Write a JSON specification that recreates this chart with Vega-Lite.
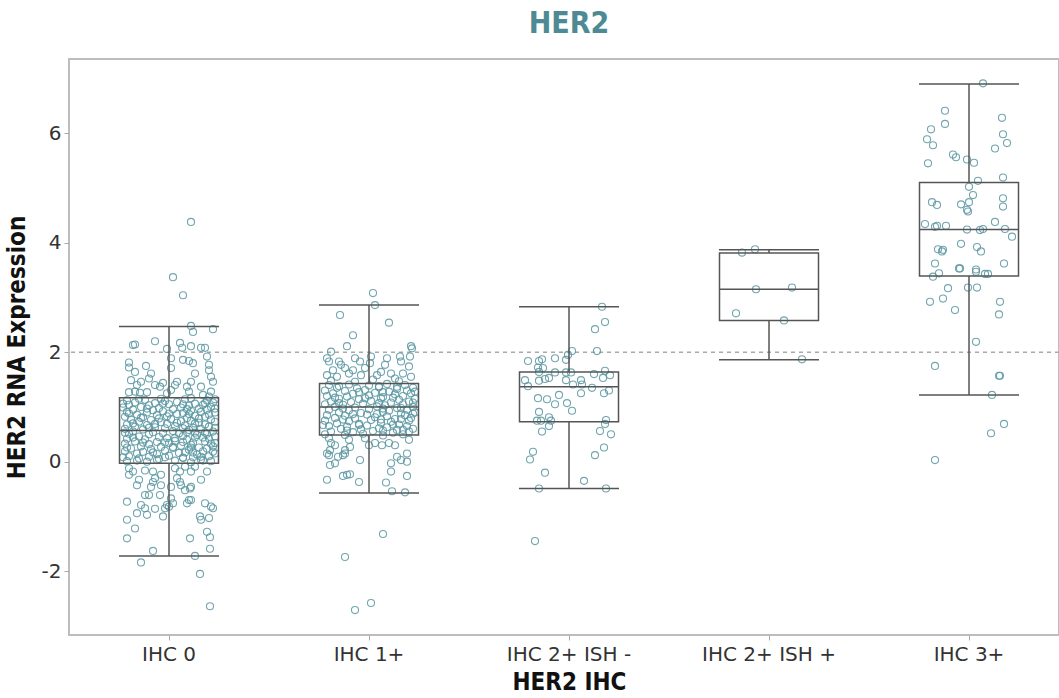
{
"$schema": "https://vega.github.io/schema/vega-lite/v6.json",
"width": 990, "height": 576,
"autosize": {"type": "none"},
"padding": {"left": 69, "top": 59, "right": 0, "bottom": 63},
"background": "white",
"title": {"text": "HER2", "font": "DejaVu Sans Condensed", "fontWeight": "bold", "fontSize": 30, "color": "#4e8a94", "anchor": "middle", "dx": 5, "offset": 20},
"config": {
  "view": {"stroke": "#bdbdbd", "strokeWidth": 2},
  "axis": {"domain": false, "grid": false, "tickColor": "#aaaaaa", "tickSize": 5, "tickWidth": 1, "labelFont": "DejaVu Sans", "labelFontSize": 20, "labelColor": "#333333", "titleFont": "DejaVu Sans Condensed", "titleFontWeight": "bold", "titleFontSize": 24, "titleColor": "#111111"}
},
"datasets": {
"stats": [
{"g":"IHC 0","lo":-1.72,"q1":-0.03,"med":0.57,"q3":1.17,"hi":2.47},
{"g":"IHC 1+","lo":-0.57,"q1":0.49,"med":1.00,"q3":1.43,"hi":2.86},
{"g":"IHC 2+ ISH -","lo":-0.49,"q1":0.73,"med":1.37,"q3":1.64,"hi":2.83},
{"g":"IHC 2+ ISH +","lo":1.86,"q1":2.58,"med":3.15,"q3":3.81,"hi":3.87},
{"g":"IHC 3+","lo":1.22,"q1":3.39,"med":4.24,"q3":5.10,"hi":6.90}
],
"ref": [{"r": 2}],
"pts": [
{"g":"IHC 0","v":4.38,"j":0.11},{"g":"IHC 0","v":3.37,"j":0.02},{"g":"IHC 0","v":3.04,"j":0.07},{"g":"IHC 0","v":2.48,"j":0.11},{"g":"IHC 0","v":2.37,"j":0.12},{"g":"IHC 0","v":2.42,"j":0.22},
{"g":"IHC 0","v":2.13,"j":-0.18},{"g":"IHC 0","v":2.14,"j":-0.17},{"g":"IHC 0","v":2.20,"j":-0.07},{"g":"IHC 0","v":2.06,"j":-0.01},{"g":"IHC 0","v":2.17,"j":0.055},{"g":"IHC 0","v":2.08,"j":0.066},{"g":"IHC 0","v":2.11,"j":0.11},{"g":"IHC 0","v":2.08,"j":0.16},{"g":"IHC 0","v":2.08,"j":0.18},{"g":"IHC 0","v":1.92,"j":0.19},
{"g":"IHC 0","v":1.81,"j":-0.2},{"g":"IHC 0","v":1.72,"j":-0.2},{"g":"IHC 0","v":1.75,"j":-0.115},{"g":"IHC 0","v":1.89,"j":0.01},{"g":"IHC 0","v":1.71,"j":0.01},{"g":"IHC 0","v":1.86,"j":0.07},{"g":"IHC 0","v":1.84,"j":0.1},{"g":"IHC 0","v":1.80,"j":0.12},{"g":"IHC 0","v":1.77,"j":0.2},{"g":"IHC 0","v":1.67,"j":0.2},
{"g":"IHC 0","v":1.64,"j":-0.17},{"g":"IHC 0","v":1.61,"j":-0.09},{"g":"IHC 0","v":1.52,"j":-0.1},{"g":"IHC 0","v":1.61,"j":0.13},{"g":"IHC 0","v":1.55,"j":0.21},{"g":"IHC 0","v":1.46,"j":0.22},
{"g":"IHC 0","v":1.49,"j":-0.19},{"g":"IHC 0","v":1.40,"j":-0.16},{"g":"IHC 0","v":1.46,"j":-0.14},{"g":"IHC 0","v":1.44,"j":-0.03},{"g":"IHC 0","v":1.46,"j":0.04},{"g":"IHC 0","v":1.40,"j":0.03},{"g":"IHC 0","v":1.46,"j":0.11},
{"g":"IHC 0","v":1.27,"j":-0.2},{"g":"IHC 0","v":1.28,"j":-0.17},{"g":"IHC 0","v":1.26,"j":-0.145},{"g":"IHC 0","v":1.27,"j":-0.11},{"g":"IHC 0","v":1.40,"j":-0.07},{"g":"IHC 0","v":1.37,"j":-0.045},{"g":"IHC 0","v":1.25,"j":-0.01},{"g":"IHC 0","v":1.31,"j":0.01},{"g":"IHC 0","v":1.37,"j":0.09},{"g":"IHC 0","v":1.28,"j":0.1},
{"g":"IHC 0","v":1.37,"j":0.16},{"g":"IHC 0","v":1.22,"j":0.17},{"g":"IHC 0","v":1.19,"j":0.2},{"g":"IHC 0","v":1.28,"j":0.21},
{"g":"IHC 0","v":1.12,"j":-0.21},{"g":"IHC 0","v":1.13,"j":-0.12},{"g":"IHC 0","v":1.11,"j":-0.02},{"g":"IHC 0","v":1.14,"j":0.08},{"g":"IHC 0","v":1.12,"j":0.19},
{"g":"IHC 0","v":1.08,"j":-0.17},{"g":"IHC 0","v":1.07,"j":-0.07},{"g":"IHC 0","v":1.09,"j":0.04},{"g":"IHC 0","v":1.06,"j":0.13},{"g":"IHC 0","v":1.08,"j":0.22},
{"g":"IHC 0","v":1.04,"j":-0.2},{"g":"IHC 0","v":1.03,"j":-0.1},{"g":"IHC 0","v":1.05,"j":0.0},{"g":"IHC 0","v":1.02,"j":0.1},{"g":"IHC 0","v":1.04,"j":0.17},
{"g":"IHC 0","v":0.99,"j":-0.23},{"g":"IHC 0","v":1.00,"j":-0.14},{"g":"IHC 0","v":0.98,"j":-0.05},{"g":"IHC 0","v":0.99,"j":0.06},{"g":"IHC 0","v":0.97,"j":0.15},{"g":"IHC 0","v":1.00,"j":0.21},
{"g":"IHC 0","v":0.95,"j":-0.18},{"g":"IHC 0","v":0.94,"j":-0.08},{"g":"IHC 0","v":0.96,"j":0.02},{"g":"IHC 0","v":0.93,"j":0.11},{"g":"IHC 0","v":0.95,"j":0.19},
{"g":"IHC 0","v":0.91,"j":-0.21},{"g":"IHC 0","v":0.90,"j":-0.11},{"g":"IHC 0","v":0.92,"j":-0.03},{"g":"IHC 0","v":0.89,"j":0.07},{"g":"IHC 0","v":0.91,"j":0.16},{"g":"IHC 0","v":0.90,"j":0.23},
{"g":"IHC 0","v":0.86,"j":-0.16},{"g":"IHC 0","v":0.85,"j":-0.06},{"g":"IHC 0","v":0.87,"j":0.04},{"g":"IHC 0","v":0.84,"j":0.13},{"g":"IHC 0","v":0.86,"j":0.2},
{"g":"IHC 0","v":0.82,"j":-0.22},{"g":"IHC 0","v":0.81,"j":-0.13},{"g":"IHC 0","v":0.83,"j":-0.01},{"g":"IHC 0","v":0.80,"j":0.09},{"g":"IHC 0","v":0.82,"j":0.18},
{"g":"IHC 0","v":0.77,"j":-0.19},{"g":"IHC 0","v":0.76,"j":-0.09},{"g":"IHC 0","v":0.78,"j":0.01},{"g":"IHC 0","v":0.75,"j":0.11},{"g":"IHC 0","v":0.77,"j":0.21},
{"g":"IHC 0","v":0.73,"j":-0.15},{"g":"IHC 0","v":0.72,"j":-0.04},{"g":"IHC 0","v":0.74,"j":0.06},{"g":"IHC 0","v":0.71,"j":0.15},{"g":"IHC 0","v":0.73,"j":0.23},
{"g":"IHC 0","v":0.68,"j":-0.21},{"g":"IHC 0","v":0.67,"j":-0.11},{"g":"IHC 0","v":0.69,"j":-0.01},{"g":"IHC 0","v":0.66,"j":0.08},{"g":"IHC 0","v":0.68,"j":0.18},
{"g":"IHC 0","v":0.64,"j":-0.17},{"g":"IHC 0","v":0.63,"j":-0.07},{"g":"IHC 0","v":0.65,"j":0.03},{"g":"IHC 0","v":0.62,"j":0.12},{"g":"IHC 0","v":0.64,"j":0.2},
{"g":"IHC 0","v":0.60,"j":-0.22},{"g":"IHC 0","v":0.59,"j":-0.13},{"g":"IHC 0","v":0.61,"j":-0.02},{"g":"IHC 0","v":0.58,"j":0.1},{"g":"IHC 0","v":0.60,"j":0.16},
{"g":"IHC 0","v":0.55,"j":-0.18},{"g":"IHC 0","v":0.54,"j":-0.08},{"g":"IHC 0","v":0.56,"j":0.02},{"g":"IHC 0","v":0.53,"j":0.13},{"g":"IHC 0","v":0.55,"j":0.22},
{"g":"IHC 0","v":0.51,"j":-0.2},{"g":"IHC 0","v":0.50,"j":-0.1},{"g":"IHC 0","v":0.52,"j":0.05},{"g":"IHC 0","v":0.49,"j":0.14},{"g":"IHC 0","v":0.51,"j":0.19},
{"g":"IHC 0","v":0.46,"j":-0.15},{"g":"IHC 0","v":0.45,"j":-0.05},{"g":"IHC 0","v":0.47,"j":0.07},{"g":"IHC 0","v":0.44,"j":0.17},{"g":"IHC 0","v":0.46,"j":0.23},
{"g":"IHC 0","v":0.42,"j":-0.21},{"g":"IHC 0","v":0.41,"j":-0.12},{"g":"IHC 0","v":0.43,"j":-0.01},{"g":"IHC 0","v":0.40,"j":0.09},{"g":"IHC 0","v":0.42,"j":0.2},
{"g":"IHC 0","v":0.37,"j":-0.17},{"g":"IHC 0","v":0.36,"j":-0.06},{"g":"IHC 0","v":0.38,"j":0.03},{"g":"IHC 0","v":0.35,"j":0.12},{"g":"IHC 0","v":0.37,"j":0.18},
{"g":"IHC 0","v":0.33,"j":-0.22},{"g":"IHC 0","v":0.32,"j":-0.1},{"g":"IHC 0","v":0.34,"j":0.0},{"g":"IHC 0","v":0.31,"j":0.11},{"g":"IHC 0","v":0.33,"j":0.21},
{"g":"IHC 0","v":0.28,"j":-0.14},{"g":"IHC 0","v":0.27,"j":-0.04},{"g":"IHC 0","v":0.29,"j":0.06},{"g":"IHC 0","v":0.26,"j":0.15},{"g":"IHC 0","v":0.28,"j":0.22},
{"g":"IHC 0","v":0.24,"j":-0.19},{"g":"IHC 0","v":0.23,"j":-0.09},{"g":"IHC 0","v":0.25,"j":0.02},{"g":"IHC 0","v":0.22,"j":0.1},{"g":"IHC 0","v":0.24,"j":0.19},
{"g":"IHC 0","v":0.19,"j":-0.22},{"g":"IHC 0","v":0.18,"j":-0.13},{"g":"IHC 0","v":0.20,"j":-0.02},{"g":"IHC 0","v":0.17,"j":0.08},{"g":"IHC 0","v":0.19,"j":0.17},
{"g":"IHC 0","v":0.15,"j":-0.16},{"g":"IHC 0","v":0.14,"j":-0.06},{"g":"IHC 0","v":0.16,"j":0.05},{"g":"IHC 0","v":0.13,"j":0.14},{"g":"IHC 0","v":0.15,"j":0.23},
{"g":"IHC 0","v":0.10,"j":-0.2},{"g":"IHC 0","v":0.09,"j":-0.1},{"g":"IHC 0","v":0.11,"j":0.0},{"g":"IHC 0","v":0.08,"j":0.12},{"g":"IHC 0","v":0.10,"j":0.2},
{"g":"IHC 0","v":0.06,"j":-0.15},{"g":"IHC 0","v":0.05,"j":-0.05},{"g":"IHC 0","v":0.07,"j":0.07},{"g":"IHC 0","v":0.04,"j":0.16},
{"g":"IHC 0","v":0.01,"j":-0.21},{"g":"IHC 0","v":0.00,"j":-0.11},{"g":"IHC 0","v":0.02,"j":0.03},{"g":"IHC 0","v":-0.01,"j":0.11},{"g":"IHC 0","v":0.01,"j":0.21},
{"g":"IHC 0","v":1.15,"j":-0.15},{"g":"IHC 0","v":1.15,"j":-0.04},{"g":"IHC 0","v":1.16,"j":0.11},{"g":"IHC 0","v":1.14,"j":0.23},
{"g":"IHC 0","v":1.06,"j":-0.23},{"g":"IHC 0","v":1.06,"j":-0.03},{"g":"IHC 0","v":1.05,"j":0.07},{"g":"IHC 0","v":1.07,"j":0.18},
{"g":"IHC 0","v":0.97,"j":-0.11},{"g":"IHC 0","v":0.96,"j":0.09},{"g":"IHC 0","v":0.97,"j":0.23},
{"g":"IHC 0","v":0.88,"j":-0.2},{"g":"IHC 0","v":0.88,"j":0.0},{"g":"IHC 0","v":0.87,"j":0.1},
{"g":"IHC 0","v":0.79,"j":-0.05},{"g":"IHC 0","v":0.79,"j":0.15},{"g":"IHC 0","v":0.80,"j":-0.14},
{"g":"IHC 0","v":0.70,"j":-0.18},{"g":"IHC 0","v":0.71,"j":0.04},{"g":"IHC 0","v":0.70,"j":0.13},{"g":"IHC 0","v":0.69,"j":-0.07},
{"g":"IHC 0","v":0.62,"j":-0.1},{"g":"IHC 0","v":0.61,"j":0.07},{"g":"IHC 0","v":0.62,"j":0.23},
{"g":"IHC 0","v":0.53,"j":-0.22},{"g":"IHC 0","v":0.52,"j":-0.03},{"g":"IHC 0","v":0.54,"j":0.09},{"g":"IHC 0","v":0.53,"j":0.18},
{"g":"IHC 0","v":0.44,"j":-0.18},{"g":"IHC 0","v":0.43,"j":0.03},{"g":"IHC 0","v":0.44,"j":0.13},
{"g":"IHC 0","v":0.35,"j":-0.13},{"g":"IHC 0","v":0.35,"j":-0.02},{"g":"IHC 0","v":0.36,"j":0.07},{"g":"IHC 0","v":0.34,"j":0.23},
{"g":"IHC 0","v":0.26,"j":-0.21},{"g":"IHC 0","v":0.26,"j":0.11},{"g":"IHC 0","v":0.27,"j":0.02},
{"g":"IHC 0","v":0.17,"j":-0.08},{"g":"IHC 0","v":0.17,"j":0.12},{"g":"IHC 0","v":0.18,"j":0.22},
{"g":"IHC 0","v":0.08,"j":-0.23},{"g":"IHC 0","v":0.08,"j":-0.02},{"g":"IHC 0","v":0.09,"j":0.16},{"g":"IHC 0","v":0.07,"j":0.07},
{"g":"IHC 0","v":0.02,"j":-0.16},{"g":"IHC 0","v":0.03,"j":-0.06},{"g":"IHC 0","v":0.02,"j":0.17},
{"g":"IHC 0","v":-0.12,"j":-0.2},{"g":"IHC 0","v":-0.18,"j":-0.18},{"g":"IHC 0","v":-0.24,"j":-0.2},{"g":"IHC 0","v":-0.16,"j":-0.12},{"g":"IHC 0","v":-0.18,"j":-0.08},{"g":"IHC 0","v":-0.30,"j":-0.07},{"g":"IHC 0","v":-0.24,"j":-0.04},
{"g":"IHC 0","v":-0.12,"j":0.03},{"g":"IHC 0","v":-0.18,"j":0.055},{"g":"IHC 0","v":-0.09,"j":0.08},{"g":"IHC 0","v":-0.18,"j":0.11},{"g":"IHC 0","v":-0.09,"j":0.13},{"g":"IHC 0","v":-0.18,"j":0.19},{"g":"IHC 0","v":-0.33,"j":0.16},{"g":"IHC 0","v":-0.30,"j":0.04},
{"g":"IHC 0","v":-0.33,"j":-0.15},{"g":"IHC 0","v":-0.43,"j":-0.16},{"g":"IHC 0","v":-0.37,"j":-0.08},{"g":"IHC 0","v":-0.46,"j":-0.09},{"g":"IHC 0","v":-0.43,"j":-0.04},
{"g":"IHC 0","v":-0.46,"j":0.01},{"g":"IHC 0","v":-0.43,"j":0.06},{"g":"IHC 0","v":-0.52,"j":0.08},{"g":"IHC 0","v":-0.49,"j":0.105},{"g":"IHC 0","v":-0.37,"j":0.055},
{"g":"IHC 0","v":-0.61,"j":-0.12},{"g":"IHC 0","v":-0.61,"j":-0.10},{"g":"IHC 0","v":-0.61,"j":-0.045},{"g":"IHC 0","v":-0.46,"j":0.11},{"g":"IHC 0","v":-0.70,"j":0.1},{"g":"IHC 0","v":-0.70,"j":0.11},
{"g":"IHC 0","v":-0.67,"j":0.01},{"g":"IHC 0","v":-0.76,"j":0.02},{"g":"IHC 0","v":-0.73,"j":-0.21},{"g":"IHC 0","v":-0.79,"j":-0.14},{"g":"IHC 0","v":-0.85,"j":-0.12},
{"g":"IHC 0","v":-0.79,"j":-0.01},{"g":"IHC 0","v":-0.85,"j":-0.02},{"g":"IHC 0","v":-0.82,"j":0.0},{"g":"IHC 0","v":-0.86,"j":-0.07},{"g":"IHC 0","v":-0.76,"j":0.09},
{"g":"IHC 0","v":-0.76,"j":0.18},{"g":"IHC 0","v":-0.82,"j":0.21},{"g":"IHC 0","v":-0.85,"j":0.22},{"g":"IHC 0","v":-0.94,"j":-0.16},{"g":"IHC 0","v":-0.97,"j":-0.11},{"g":"IHC 0","v":-1.0,"j":-0.03},
{"g":"IHC 0","v":-1.0,"j":0.155},{"g":"IHC 0","v":-1.06,"j":0.16},{"g":"IHC 0","v":-1.03,"j":0.2},{"g":"IHC 0","v":-1.06,"j":-0.21},{"g":"IHC 0","v":-1.22,"j":-0.17},{"g":"IHC 0","v":-1.28,"j":0.19},
{"g":"IHC 0","v":-1.40,"j":-0.21},{"g":"IHC 0","v":-1.40,"j":0.105},{"g":"IHC 0","v":-1.38,"j":0.205},{"g":"IHC 0","v":-1.63,"j":-0.08},{"g":"IHC 0","v":-1.59,"j":0.205},{"g":"IHC 0","v":-1.72,"j":0.13},
{"g":"IHC 0","v":-1.84,"j":-0.14},{"g":"IHC 0","v":-2.05,"j":0.155},{"g":"IHC 0","v":-2.64,"j":0.205},
{"g":"IHC 1+","v":3.08,"j":0.02},{"g":"IHC 1+","v":2.86,"j":0.03},{"g":"IHC 1+","v":2.68,"j":-0.145},{"g":"IHC 1+","v":2.54,"j":0.1},{"g":"IHC 1+","v":2.31,"j":-0.08},{"g":"IHC 1+","v":2.11,"j":-0.11},{"g":"IHC 1+","v":2.11,"j":0.21},{"g":"IHC 1+","v":2.07,"j":0.215},
{"g":"IHC 1+","v":2.01,"j":-0.19},{"g":"IHC 1+","v":1.89,"j":-0.21},{"g":"IHC 1+","v":1.83,"j":-0.2},{"g":"IHC 1+","v":1.83,"j":-0.15},{"g":"IHC 1+","v":1.77,"j":-0.14},{"g":"IHC 1+","v":1.71,"j":-0.12},{"g":"IHC 1+","v":1.89,"j":-0.07},{"g":"IHC 1+","v":1.83,"j":-0.045},
{"g":"IHC 1+","v":1.92,"j":0.01},{"g":"IHC 1+","v":1.80,"j":0.005},{"g":"IHC 1+","v":1.89,"j":0.09},{"g":"IHC 1+","v":1.77,"j":0.08},{"g":"IHC 1+","v":1.92,"j":0.155},{"g":"IHC 1+","v":1.83,"j":0.16},{"g":"IHC 1+","v":1.92,"j":0.205},{"g":"IHC 1+","v":1.74,"j":0.2},
{"g":"IHC 1+","v":1.58,"j":-0.21},{"g":"IHC 1+","v":1.67,"j":-0.18},{"g":"IHC 1+","v":1.55,"j":-0.16},{"g":"IHC 1+","v":1.61,"j":-0.1},{"g":"IHC 1+","v":1.67,"j":-0.08},{"g":"IHC 1+","v":1.58,"j":-0.04},{"g":"IHC 1+","v":1.71,"j":-0.02},
{"g":"IHC 1+","v":1.58,"j":0.04},{"g":"IHC 1+","v":1.64,"j":0.06},{"g":"IHC 1+","v":1.61,"j":0.11},{"g":"IHC 1+","v":1.52,"j":0.13},{"g":"IHC 1+","v":1.61,"j":0.17},{"g":"IHC 1+","v":1.55,"j":0.21},
{"g":"IHC 1+","v":1.48,"j":-0.19},{"g":"IHC 1+","v":1.46,"j":-0.07},{"g":"IHC 1+","v":1.50,"j":0.02},{"g":"IHC 1+","v":1.47,"j":0.15},
{"g":"IHC 1+","v":1.40,"j":-0.2},{"g":"IHC 1+","v":1.41,"j":-0.1},{"g":"IHC 1+","v":1.39,"j":0.0},{"g":"IHC 1+","v":1.42,"j":0.09},{"g":"IHC 1+","v":1.40,"j":0.18},
{"g":"IHC 1+","v":1.35,"j":-0.16},{"g":"IHC 1+","v":1.34,"j":-0.06},{"g":"IHC 1+","v":1.36,"j":0.05},{"g":"IHC 1+","v":1.33,"j":0.14},{"g":"IHC 1+","v":1.35,"j":0.22},
{"g":"IHC 1+","v":1.30,"j":-0.22},{"g":"IHC 1+","v":1.29,"j":-0.12},{"g":"IHC 1+","v":1.31,"j":-0.02},{"g":"IHC 1+","v":1.28,"j":0.1},{"g":"IHC 1+","v":1.30,"j":0.19},
{"g":"IHC 1+","v":1.25,"j":-0.18},{"g":"IHC 1+","v":1.24,"j":-0.08},{"g":"IHC 1+","v":1.26,"j":0.03},{"g":"IHC 1+","v":1.23,"j":0.13},{"g":"IHC 1+","v":1.25,"j":0.21},
{"g":"IHC 1+","v":1.20,"j":-0.21},{"g":"IHC 1+","v":1.19,"j":-0.11},{"g":"IHC 1+","v":1.21,"j":0.0},{"g":"IHC 1+","v":1.18,"j":0.07},{"g":"IHC 1+","v":1.20,"j":0.17},
{"g":"IHC 1+","v":1.15,"j":-0.15},{"g":"IHC 1+","v":1.14,"j":-0.05},{"g":"IHC 1+","v":1.16,"j":0.06},{"g":"IHC 1+","v":1.13,"j":0.15},{"g":"IHC 1+","v":1.15,"j":0.23},
{"g":"IHC 1+","v":1.10,"j":-0.19},{"g":"IHC 1+","v":1.09,"j":-0.09},{"g":"IHC 1+","v":1.11,"j":0.01},{"g":"IHC 1+","v":1.08,"j":0.11},{"g":"IHC 1+","v":1.10,"j":0.2},
{"g":"IHC 1+","v":1.05,"j":-0.22},{"g":"IHC 1+","v":1.04,"j":-0.13},{"g":"IHC 1+","v":1.06,"j":-0.03},{"g":"IHC 1+","v":1.03,"j":0.08},{"g":"IHC 1+","v":1.05,"j":0.17},
{"g":"IHC 1+","v":1.00,"j":-0.17},{"g":"IHC 1+","v":0.99,"j":-0.07},{"g":"IHC 1+","v":1.01,"j":0.04},{"g":"IHC 1+","v":0.98,"j":0.14},{"g":"IHC 1+","v":1.00,"j":0.22},
{"g":"IHC 1+","v":0.95,"j":-0.2},{"g":"IHC 1+","v":0.94,"j":-0.1},{"g":"IHC 1+","v":0.96,"j":0.0},{"g":"IHC 1+","v":0.93,"j":0.1},{"g":"IHC 1+","v":0.95,"j":0.19},
{"g":"IHC 1+","v":0.90,"j":-0.15},{"g":"IHC 1+","v":0.89,"j":-0.04},{"g":"IHC 1+","v":0.91,"j":0.07},{"g":"IHC 1+","v":0.88,"j":0.16},{"g":"IHC 1+","v":0.90,"j":0.23},
{"g":"IHC 1+","v":0.85,"j":-0.21},{"g":"IHC 1+","v":0.84,"j":-0.12},{"g":"IHC 1+","v":0.86,"j":-0.01},{"g":"IHC 1+","v":0.83,"j":0.09},{"g":"IHC 1+","v":0.85,"j":0.18},
{"g":"IHC 1+","v":0.80,"j":-0.17},{"g":"IHC 1+","v":0.79,"j":-0.07},{"g":"IHC 1+","v":0.81,"j":0.03},{"g":"IHC 1+","v":0.78,"j":0.13},{"g":"IHC 1+","v":0.80,"j":0.21},
{"g":"IHC 1+","v":0.75,"j":-0.22},{"g":"IHC 1+","v":0.74,"j":-0.1},{"g":"IHC 1+","v":0.76,"j":0.01},{"g":"IHC 1+","v":0.73,"j":0.11},{"g":"IHC 1+","v":0.75,"j":0.2},
{"g":"IHC 1+","v":0.70,"j":-0.16},{"g":"IHC 1+","v":0.69,"j":-0.05},{"g":"IHC 1+","v":0.71,"j":0.06},{"g":"IHC 1+","v":0.68,"j":0.15},
{"g":"IHC 1+","v":0.65,"j":-0.2},{"g":"IHC 1+","v":0.64,"j":-0.11},{"g":"IHC 1+","v":0.66,"j":-0.01},{"g":"IHC 1+","v":0.63,"j":0.09},{"g":"IHC 1+","v":0.65,"j":0.19},
{"g":"IHC 1+","v":0.60,"j":-0.14},{"g":"IHC 1+","v":0.59,"j":-0.04},{"g":"IHC 1+","v":0.61,"j":0.05},{"g":"IHC 1+","v":0.58,"j":0.14},{"g":"IHC 1+","v":0.60,"j":0.22},
{"g":"IHC 1+","v":0.55,"j":-0.19},{"g":"IHC 1+","v":0.54,"j":-0.08},{"g":"IHC 1+","v":0.56,"j":0.02},{"g":"IHC 1+","v":0.53,"j":0.12},{"g":"IHC 1+","v":0.55,"j":0.2},
{"g":"IHC 1+","v":0.50,"j":-0.22},{"g":"IHC 1+","v":0.49,"j":-0.12},{"g":"IHC 1+","v":0.51,"j":-0.03},{"g":"IHC 1+","v":0.48,"j":0.07},{"g":"IHC 1+","v":0.50,"j":0.17},
{"g":"IHC 1+","v":1.38,"j":-0.15},{"g":"IHC 1+","v":1.38,"j":0.05},{"g":"IHC 1+","v":1.37,"j":0.14},
{"g":"IHC 1+","v":1.27,"j":-0.05},{"g":"IHC 1+","v":1.27,"j":0.07},{"g":"IHC 1+","v":1.28,"j":0.23},
{"g":"IHC 1+","v":1.17,"j":-0.17},{"g":"IHC 1+","v":1.17,"j":0.12},{"g":"IHC 1+","v":1.16,"j":-0.02},
{"g":"IHC 1+","v":1.07,"j":-0.15},{"g":"IHC 1+","v":1.07,"j":0.05},{"g":"IHC 1+","v":1.08,"j":0.22},
{"g":"IHC 1+","v":0.97,"j":-0.13},{"g":"IHC 1+","v":0.97,"j":0.07},{"g":"IHC 1+","v":0.98,"j":0.16},
{"g":"IHC 1+","v":0.87,"j":-0.08},{"g":"IHC 1+","v":0.87,"j":0.04},{"g":"IHC 1+","v":0.88,"j":0.22},
{"g":"IHC 1+","v":0.77,"j":-0.13},{"g":"IHC 1+","v":0.77,"j":0.06},{"g":"IHC 1+","v":0.78,"j":0.16},
{"g":"IHC 1+","v":0.67,"j":-0.23},{"g":"IHC 1+","v":0.67,"j":-0.05},{"g":"IHC 1+","v":0.68,"j":0.12},
{"g":"IHC 1+","v":0.57,"j":-0.11},{"g":"IHC 1+","v":0.57,"j":0.07},{"g":"IHC 1+","v":0.58,"j":0.17},
{"g":"IHC 1+","v":0.43,"j":-0.2},{"g":"IHC 1+","v":0.34,"j":-0.19},{"g":"IHC 1+","v":0.30,"j":-0.17},{"g":"IHC 1+","v":0.21,"j":-0.195},{"g":"IHC 1+","v":0.40,"j":-0.1},{"g":"IHC 1+","v":0.27,"j":-0.095},{"g":"IHC 1+","v":0.21,"j":-0.12},
{"g":"IHC 1+","v":0.43,"j":-0.02},{"g":"IHC 1+","v":0.30,"j":0.0},{"g":"IHC 1+","v":0.34,"j":0.03},{"g":"IHC 1+","v":0.30,"j":0.065},{"g":"IHC 1+","v":0.34,"j":0.1},{"g":"IHC 1+","v":0.30,"j":0.13},{"g":"IHC 1+","v":0.40,"j":0.2},
{"g":"IHC 1+","v":0.15,"j":-0.21},{"g":"IHC 1+","v":0.12,"j":-0.2},{"g":"IHC 1+","v":0.09,"j":-0.155},{"g":"IHC 1+","v":0.12,"j":-0.13},{"g":"IHC 1+","v":0.15,"j":-0.12},{"g":"IHC 1+","v":-0.06,"j":-0.195},{"g":"IHC 1+","v":-0.03,"j":-0.17},{"g":"IHC 1+","v":0.03,"j":-0.045},
{"g":"IHC 1+","v":0.15,"j":0.19},{"g":"IHC 1+","v":0.03,"j":0.16},{"g":"IHC 1+","v":0.0,"j":0.19},{"g":"IHC 1+","v":0.09,"j":0.14},{"g":"IHC 1+","v":-0.03,"j":0.11},{"g":"IHC 1+","v":-0.18,"j":0.11},
{"g":"IHC 1+","v":-0.26,"j":-0.13},{"g":"IHC 1+","v":-0.24,"j":-0.11},{"g":"IHC 1+","v":-0.23,"j":-0.095},{"g":"IHC 1+","v":-0.33,"j":-0.21},{"g":"IHC 1+","v":-0.37,"j":-0.05},{"g":"IHC 1+","v":-0.38,"j":0.085},{"g":"IHC 1+","v":-0.26,"j":0.19},
{"g":"IHC 1+","v":-0.54,"j":0.115},{"g":"IHC 1+","v":-0.56,"j":0.18},{"g":"IHC 1+","v":-1.32,"j":0.07},{"g":"IHC 1+","v":-1.74,"j":-0.12},{"g":"IHC 1+","v":-2.58,"j":0.01},{"g":"IHC 1+","v":-2.71,"j":-0.07},
{"g":"IHC 2+ ISH -","v":2.83,"j":0.165},{"g":"IHC 2+ ISH -","v":2.55,"j":0.18},{"g":"IHC 2+ ISH -","v":2.42,"j":0.13},{"g":"IHC 2+ ISH -","v":2.02,"j":0.015},{"g":"IHC 2+ ISH -","v":1.95,"j":-0.005},{"g":"IHC 2+ ISH -","v":2.02,"j":0.14},
{"g":"IHC 2+ ISH -","v":1.84,"j":-0.205},{"g":"IHC 2+ ISH -","v":1.84,"j":-0.15},{"g":"IHC 2+ ISH -","v":1.87,"j":-0.135},{"g":"IHC 2+ ISH -","v":1.89,"j":-0.07},{"g":"IHC 2+ ISH -","v":1.86,"j":-0.015},
{"g":"IHC 2+ ISH -","v":1.72,"j":-0.155},{"g":"IHC 2+ ISH -","v":1.71,"j":-0.13},{"g":"IHC 2+ ISH -","v":1.64,"j":-0.15},
{"g":"IHC 2+ ISH -","v":1.49,"j":-0.22},{"g":"IHC 2+ ISH -","v":1.38,"j":-0.205},{"g":"IHC 2+ ISH -","v":1.48,"j":-0.15},{"g":"IHC 2+ ISH -","v":1.51,"j":-0.12},{"g":"IHC 2+ ISH -","v":1.53,"j":-0.1},{"g":"IHC 2+ ISH -","v":1.63,"j":-0.07},{"g":"IHC 2+ ISH -","v":1.63,"j":-0.015},{"g":"IHC 2+ ISH -","v":1.63,"j":0.01},{"g":"IHC 2+ ISH -","v":1.49,"j":-0.015},{"g":"IHC 2+ ISH -","v":1.41,"j":0.02},{"g":"IHC 2+ ISH -","v":1.49,"j":0.06},{"g":"IHC 2+ ISH -","v":1.41,"j":0.065},{"g":"IHC 2+ ISH -","v":1.35,"j":0.115},{"g":"IHC 2+ ISH -","v":1.60,"j":0.125},{"g":"IHC 2+ ISH -","v":1.53,"j":0.17},{"g":"IHC 2+ ISH -","v":1.66,"j":0.18},{"g":"IHC 2+ ISH -","v":1.58,"j":0.205},
{"g":"IHC 2+ ISH -","v":1.16,"j":-0.155},{"g":"IHC 2+ ISH -","v":1.14,"j":-0.11},{"g":"IHC 2+ ISH -","v":1.22,"j":-0.05},{"g":"IHC 2+ ISH -","v":1.05,"j":-0.07},{"g":"IHC 2+ ISH -","v":1.07,"j":-0.01},{"g":"IHC 2+ ISH -","v":0.93,"j":0.015},{"g":"IHC 2+ ISH -","v":1.25,"j":0.06},{"g":"IHC 2+ ISH -","v":1.25,"j":0.175},{"g":"IHC 2+ ISH -","v":1.30,"j":0.2},
{"g":"IHC 2+ ISH -","v":0.91,"j":-0.15},{"g":"IHC 2+ ISH -","v":0.75,"j":-0.16},{"g":"IHC 2+ ISH -","v":0.75,"j":-0.14},{"g":"IHC 2+ ISH -","v":0.81,"j":-0.1},{"g":"IHC 2+ ISH -","v":0.75,"j":-0.09},{"g":"IHC 2+ ISH -","v":0.65,"j":-0.1},{"g":"IHC 2+ ISH -","v":0.55,"j":-0.135},
{"g":"IHC 2+ ISH -","v":0.76,"j":0.185},{"g":"IHC 2+ ISH -","v":0.69,"j":0.18},{"g":"IHC 2+ ISH -","v":0.56,"j":0.155},{"g":"IHC 2+ ISH -","v":0.50,"j":0.21},
{"g":"IHC 2+ ISH -","v":0.26,"j":0.175},{"g":"IHC 2+ ISH -","v":0.12,"j":0.13},{"g":"IHC 2+ ISH -","v":0.18,"j":-0.18},{"g":"IHC 2+ ISH -","v":0.04,"j":-0.195},{"g":"IHC 2+ ISH -","v":-0.20,"j":-0.12},{"g":"IHC 2+ ISH -","v":-0.35,"j":0.075},{"g":"IHC 2+ ISH -","v":-0.49,"j":-0.15},{"g":"IHC 2+ ISH -","v":-0.49,"j":0.185},{"g":"IHC 2+ ISH -","v":-1.45,"j":-0.17},
{"g":"IHC 2+ ISH +","v":3.82,"j":-0.135},{"g":"IHC 2+ ISH +","v":3.88,"j":-0.07},{"g":"IHC 2+ ISH +","v":3.15,"j":-0.065},{"g":"IHC 2+ ISH +","v":3.18,"j":0.115},{"g":"IHC 2+ ISH +","v":2.71,"j":-0.165},{"g":"IHC 2+ ISH +","v":2.58,"j":0.075},{"g":"IHC 2+ ISH +","v":1.87,"j":0.165},
{"g":"IHC 3+","v":6.91,"j":0.07},{"g":"IHC 3+","v":6.41,"j":-0.12},{"g":"IHC 3+","v":6.28,"j":0.165},{"g":"IHC 3+","v":6.17,"j":-0.12},{"g":"IHC 3+","v":6.07,"j":-0.19},{"g":"IHC 3+","v":5.89,"j":-0.21},{"g":"IHC 3+","v":5.78,"j":-0.18},{"g":"IHC 3+","v":5.98,"j":0.17},{"g":"IHC 3+","v":5.82,"j":0.19},{"g":"IHC 3+","v":5.72,"j":0.13},
{"g":"IHC 3+","v":5.45,"j":-0.205},{"g":"IHC 3+","v":5.61,"j":-0.08},{"g":"IHC 3+","v":5.56,"j":-0.065},{"g":"IHC 3+","v":5.52,"j":-0.01},{"g":"IHC 3+","v":5.46,"j":0.025},{"g":"IHC 3+","v":5.19,"j":0.17},{"g":"IHC 3+","v":5.13,"j":0.045},{"g":"IHC 3+","v":5.02,"j":0.0},{"g":"IHC 3+","v":4.87,"j":0.02},
{"g":"IHC 3+","v":4.74,"j":-0.185},{"g":"IHC 3+","v":4.69,"j":-0.16},{"g":"IHC 3+","v":4.70,"j":-0.04},{"g":"IHC 3+","v":4.74,"j":0.0},{"g":"IHC 3+","v":4.60,"j":-0.01},{"g":"IHC 3+","v":4.57,"j":-0.005},{"g":"IHC 3+","v":4.81,"j":0.17},{"g":"IHC 3+","v":4.66,"j":0.17},
{"g":"IHC 3+","v":4.34,"j":-0.22},{"g":"IHC 3+","v":4.29,"j":-0.17},{"g":"IHC 3+","v":4.31,"j":-0.16},{"g":"IHC 3+","v":4.31,"j":-0.115},{"g":"IHC 3+","v":4.38,"j":0.13},{"g":"IHC 3+","v":4.24,"j":-0.01},{"g":"IHC 3+","v":4.23,"j":0.055},{"g":"IHC 3+","v":4.25,"j":0.07},{"g":"IHC 3+","v":4.25,"j":0.18},{"g":"IHC 3+","v":4.11,"j":0.215},
{"g":"IHC 3+","v":3.98,"j":-0.04},{"g":"IHC 3+","v":3.88,"j":-0.155},{"g":"IHC 3+","v":3.87,"j":-0.13},{"g":"IHC 3+","v":3.84,"j":-0.135},{"g":"IHC 3+","v":3.92,"j":0.04},{"g":"IHC 3+","v":3.84,"j":0.06},{"g":"IHC 3+","v":3.62,"j":-0.17},{"g":"IHC 3+","v":3.62,"j":0.175},{"g":"IHC 3+","v":3.53,"j":-0.05},{"g":"IHC 3+","v":3.51,"j":0.035},
{"g":"IHC 3+","v":3.44,"j":-0.15},{"g":"IHC 3+","v":3.38,"j":-0.18},{"g":"IHC 3+","v":3.53,"j":-0.045},{"g":"IHC 3+","v":3.47,"j":0.035},{"g":"IHC 3+","v":3.43,"j":0.08},{"g":"IHC 3+","v":3.43,"j":0.095},{"g":"IHC 3+","v":3.17,"j":-0.105},{"g":"IHC 3+","v":3.18,"j":-0.005},{"g":"IHC 3+","v":3.18,"j":0.04},
{"g":"IHC 3+","v":2.92,"j":-0.195},{"g":"IHC 3+","v":2.98,"j":-0.13},{"g":"IHC 3+","v":2.77,"j":-0.07},{"g":"IHC 3+","v":2.92,"j":0.155},{"g":"IHC 3+","v":2.69,"j":0.15},{"g":"IHC 3+","v":2.19,"j":0.035},{"g":"IHC 3+","v":1.75,"j":-0.17},{"g":"IHC 3+","v":1.57,"j":0.15},{"g":"IHC 3+","v":1.57,"j":0.155},{"g":"IHC 3+","v":1.22,"j":0.115},{"g":"IHC 3+","v":0.69,"j":0.175},{"g":"IHC 3+","v":0.52,"j":0.11},{"g":"IHC 3+","v":0.03,"j":-0.17}
]
},
"layer": [
{
  "data": {"name": "ref"},
  "mark": {"type": "rule", "color": "#aaaaaa", "strokeWidth": 1.5, "strokeDash": [4, 4]},
  "encoding": {
    "y": {"field": "r", "type": "quantitative", "scale": {"domain": [-3.165, 7.355], "nice": false, "zero": false}, "axis": {"title": "HER2 RNA Expression", "values": [-2, 0, 2, 4, 6], "labelExpr": "'' + datum.value", "labelPadding": 3, "titlePadding": 12}}
  }
},
{
  "data": {"name": "pts"},
  "mark": {"type": "point", "shape": "circle", "filled": false, "size": 50, "strokeWidth": 1.1, "color": "#5a97a2", "opacity": 0.85},
  "encoding": {
    "x": {"field": "g", "type": "nominal", "sort": ["IHC 0", "IHC 1+", "IHC 2+ ISH -", "IHC 2+ ISH +", "IHC 3+"], "scale": {"domain": ["IHC 0", "IHC 1+", "IHC 2+ ISH -", "IHC 2+ ISH +", "IHC 3+"], "range": [0, 1000], "paddingInner": 0, "paddingOuter": 0}, "axis": {"title": "HER2 IHC", "labelAngle": 0, "labelPadding": 4, "titlePadding": 6}},
    "xOffset": {"field": "j", "type": "quantitative", "scale": {"domain": [-0.5, 0.5]}},
    "y": {"field": "v", "type": "quantitative", "scale": {"domain": [-3.165, 7.355], "nice": false, "zero": false}, "title": "HER2 RNA Expression"}
  }
},
{
  "data": {"name": "stats"},
  "mark": {"type": "rule", "color": "#555555", "strokeWidth": 1.5},
  "encoding": {
    "x": {"field": "g", "type": "nominal", "sort": ["IHC 0", "IHC 1+", "IHC 2+ ISH -", "IHC 2+ ISH +", "IHC 3+"]},
    "y": {"field": "lo", "type": "quantitative", "scale": {"domain": [-3.165, 7.355], "nice": false, "zero": false}, "title": "HER2 RNA Expression"},
    "y2": {"field": "q1"}
  }
},
{
  "data": {"name": "stats"},
  "mark": {"type": "rule", "color": "#555555", "strokeWidth": 1.5},
  "encoding": {
    "x": {"field": "g", "type": "nominal", "sort": ["IHC 0", "IHC 1+", "IHC 2+ ISH -", "IHC 2+ ISH +", "IHC 3+"]},
    "y": {"field": "q3", "type": "quantitative", "scale": {"domain": [-3.165, 7.355], "nice": false, "zero": false}, "title": "HER2 RNA Expression"},
    "y2": {"field": "hi"}
  }
},
{
  "data": {"name": "stats"},
  "mark": {"type": "bar", "fillOpacity": 0, "stroke": "#555555", "strokeWidth": 1.5, "width": 99},
  "encoding": {
    "x": {"field": "g", "type": "nominal", "sort": ["IHC 0", "IHC 1+", "IHC 2+ ISH -", "IHC 2+ ISH +", "IHC 3+"]},
    "y": {"field": "q1", "type": "quantitative", "scale": {"domain": [-3.165, 7.355], "nice": false, "zero": false}, "title": "HER2 RNA Expression"},
    "y2": {"field": "q3"}
  }
},
{
  "data": {"name": "stats"},
  "mark": {"type": "tick", "color": "#555555", "thickness": 1.5, "size": 100, "opacity": 1},
  "encoding": {
    "x": {"field": "g", "type": "nominal", "sort": ["IHC 0", "IHC 1+", "IHC 2+ ISH -", "IHC 2+ ISH +", "IHC 3+"]},
    "y": {"field": "med", "type": "quantitative", "scale": {"domain": [-3.165, 7.355], "nice": false, "zero": false}, "title": "HER2 RNA Expression"}
  }
},
{
  "data": {"name": "stats"},
  "mark": {"type": "tick", "color": "#555555", "thickness": 1.5, "size": 100, "opacity": 1},
  "encoding": {
    "x": {"field": "g", "type": "nominal", "sort": ["IHC 0", "IHC 1+", "IHC 2+ ISH -", "IHC 2+ ISH +", "IHC 3+"]},
    "y": {"field": "lo", "type": "quantitative", "scale": {"domain": [-3.165, 7.355], "nice": false, "zero": false}, "title": "HER2 RNA Expression"}
  }
},
{
  "data": {"name": "stats"},
  "mark": {"type": "tick", "color": "#555555", "thickness": 1.5, "size": 100, "opacity": 1},
  "encoding": {
    "x": {"field": "g", "type": "nominal", "sort": ["IHC 0", "IHC 1+", "IHC 2+ ISH -", "IHC 2+ ISH +", "IHC 3+"]},
    "y": {"field": "hi", "type": "quantitative", "scale": {"domain": [-3.165, 7.355], "nice": false, "zero": false}, "title": "HER2 RNA Expression"}
  }
}
]
}
